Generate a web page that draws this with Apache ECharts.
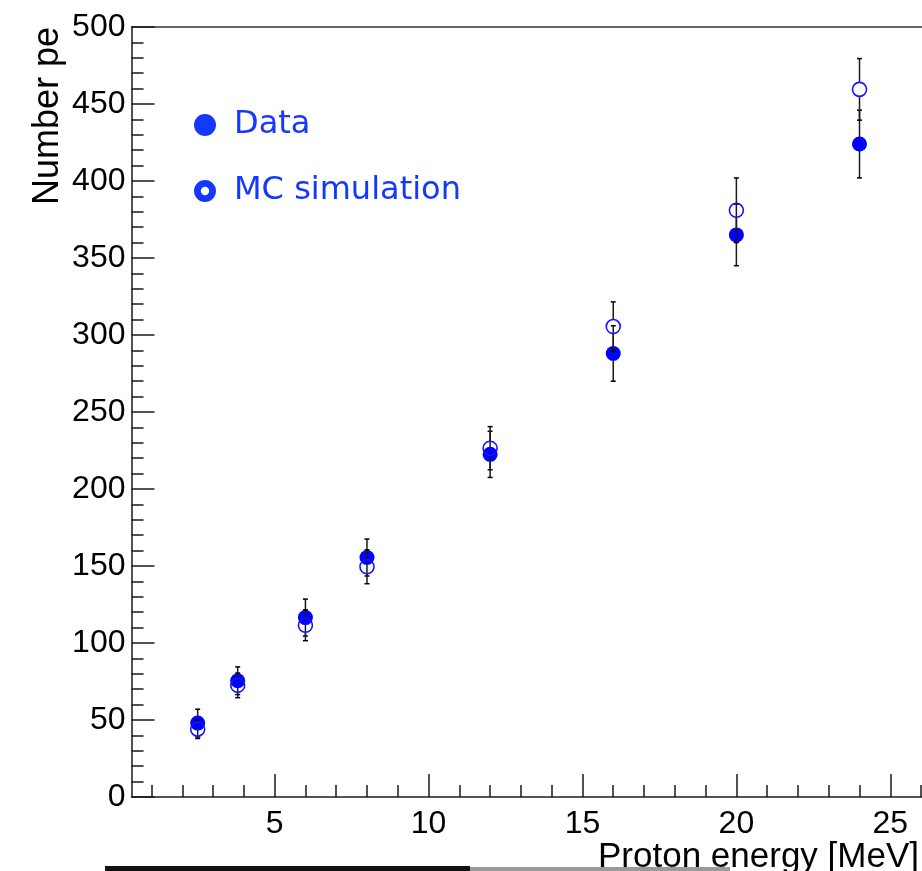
<!DOCTYPE html>
<html>
<head>
<meta charset="utf-8">
<title>Number of photoelectrons vs proton energy</title>
<script src="https://cdn.jsdelivr.net/npm/echarts@6/dist/echarts.min.js"></script>
<style>
  html, body { margin: 0; padding: 0; background: #fff; }
  #chart { width: 922px; height: 871px; }
</style>
</head>
<body>
<div id="chart"></div>
<script>
// Beam energies [MeV]
const energies = [2.5, 3.8, 6, 8, 12, 16, 20, 24];
// Measured number of photoelectrons and its uncertainty
const dataPe = [48, 75.5, 116.5, 155.5, 222.5, 288, 365, 424];
const dataErr = [9, 9, 12, 12, 15, 18, 20, 22];
// Simulated number of photoelectrons and its uncertainty
const mcPe = [44, 72.5, 111.5, 149.5, 226.5, 305.5, 381, 459.5];
const mcErr = [6, 8, 10, 11, 14, 16, 21, 20];
// Axis ticks
const xMajorTicks = [5, 10, 15, 20, 25];
const xMinorTicks = [1, 2, 3, 4, 6, 7, 8, 9, 11, 12, 13, 14, 16, 17, 18, 19, 21, 22, 23, 24, 26];

const BLUE = '#0000ff';
const LEGEND_BLUE = '#1538ff';
const AXIS = '#1a1a1a';
const FONT = '"Liberation Sans", Arial, Helvetica, sans-serif';

const chart = echarts.init(document.getElementById('chart'), null, { renderer: 'canvas' });

// Vertical error bar with a gap around the marker, caps at both ends
function errorBars(gapPx) {
  return function (params, api) {
    const x = api.value(0), y = api.value(1), e = api.value(2);
    const c = api.coord([x, y]);
    const hi = api.coord([x, y + e]);
    const lo = api.coord([x, y - e]);
    const cap = 2.5;
    const style = { stroke: AXIS, lineWidth: 1.5 };
    const kids = [];
    if (hi[1] < c[1] - gapPx) {
      kids.push({ type: 'line', shape: { x1: c[0], y1: hi[1], x2: c[0], y2: c[1] - gapPx }, style });
    }
    if (lo[1] > c[1] + gapPx) {
      kids.push({ type: 'line', shape: { x1: c[0], y1: c[1] + gapPx, x2: c[0], y2: lo[1] }, style });
    }
    kids.push({ type: 'line', shape: { x1: c[0] - cap, y1: hi[1], x2: c[0] + cap, y2: hi[1] }, style: { stroke: '#000', lineWidth: 1.5 } });
    kids.push({ type: 'line', shape: { x1: c[0] - cap, y1: lo[1], x2: c[0] + cap, y2: lo[1] }, style: { stroke: '#000', lineWidth: 1.5 } });
    return { type: 'group', children: kids };
  };
}

const dataRows = energies.map((x, i) => [x, dataPe[i], dataErr[i]]);
const mcRows = energies.map((x, i) => [x, mcPe[i], mcErr[i]]);

// Ring icon for the hollow-marker legend entry
const ringIcon = 'path://M0,-10.5A10.5,10.5 0 1,1 0,10.5A10.5,10.5 0 1,1 0,-10.5Z' +
                 'M0,-4A4,4 0 1,0 0,4A4,4 0 1,0 0,-4Z';

// The frame runs off the right edge of the canvas
const X_MIN = 0.35, X_MAX = 26.03;

const option = {
  backgroundColor: '#fff',
  animation: false,
  grid: { left: 131.5, top: 27, right: 0, height: 770, show: false },
  legend: {
    orient: 'vertical',
    left: 189, top: 99,
    itemWidth: 22, itemHeight: 22,
    itemGap: 24,
    selectedMode: false,
    textStyle: {
      fontFamily: '"DejaVu Sans", sans-serif',
      fontSize: 32,
      color: LEGEND_BLUE,
      lineHeight: 42,
      padding: [0, 0, 0, 13]
    },
    data: [
      { name: 'Data', icon: 'circle', itemStyle: { color: LEGEND_BLUE, borderWidth: 0 } },
      { name: 'MC simulation', icon: ringIcon, itemStyle: { color: LEGEND_BLUE, borderWidth: 0 } }
    ]
  },
  xAxis: [
    {
      // bottom frame line
      type: 'value', min: X_MIN, max: X_MAX, position: 'bottom',
      axisLine: { show: true, lineStyle: { color: AXIS, width: 1.5 } },
      axisTick: { show: false }, axisLabel: { show: false }, splitLine: { show: false }
    },
    {
      // major ticks and labels
      type: 'value', min: X_MIN, max: X_MAX, position: 'bottom',
      axisLine: { show: false },
      axisTick: { show: true, inside: true, length: 23, customValues: xMajorTicks, lineStyle: { color: AXIS, width: 1.5 } },
      axisLabel: { show: true, customValues: xMajorTicks, margin: 11, fontSize: 32, fontFamily: FONT, color: '#000' },
      splitLine: { show: false }
    },
    {
      // minor ticks
      type: 'value', min: X_MIN, max: X_MAX, position: 'bottom',
      axisLine: { show: false },
      axisTick: { show: true, inside: true, length: 12, customValues: xMinorTicks, lineStyle: { color: AXIS, width: 1.5 } },
      axisLabel: { show: false },
      splitLine: { show: false }
    },
    {
      // top frame line
      type: 'value', min: X_MIN, max: X_MAX, position: 'top',
      axisLine: { show: true, lineStyle: { color: '#333', width: 1.5 } },
      axisTick: { show: false }, axisLabel: { show: false }, splitLine: { show: false }
    }
  ],
  yAxis: {
    type: 'value', min: 0, max: 500, interval: 50,
    axisLine: { show: true, lineStyle: { color: AXIS, width: 1.5 } },
    axisTick: { show: true, inside: true, length: 23, lineStyle: { color: AXIS, width: 1.5 } },
    minorTick: { show: true, splitNumber: 5, length: 12, lineStyle: { color: AXIS, width: 1.5 } },
    axisLabel: { margin: 6, fontSize: 32, fontFamily: FONT, color: '#000' },
    splitLine: { show: false }
  },
  graphic: [
    {
      type: 'text', rotation: Math.PI / 2, x: 30, y: 27,
      style: { text: 'Number pe', font: '36px ' + FONT, fill: '#000', textAlign: 'right', textVerticalAlign: 'top' }
    },
    {
      type: 'text', x: 598, y: 840,
      style: { text: 'Proton energy [MeV]', font: '35px ' + FONT, fill: '#000', textAlign: 'left', textVerticalAlign: 'top' }
    },
    {
      type: 'rect', shape: { x: 105, y: 866, width: 365, height: 5 },
      style: { fill: '#111' }
    },
    {
      type: 'rect', shape: { x: 470, y: 867, width: 260, height: 4 },
      style: { fill: '#9a9a9a' }
    }
  ],
  series: [
    {
      name: 'Data errors', type: 'custom', xAxisIndex: 0, data: dataRows,
      encode: { x: 0, y: 1 }, renderItem: errorBars(7), z: 2, clip: false
    },
    {
      name: 'Data', type: 'scatter', xAxisIndex: 0, data: dataRows.map(r => [r[0], r[1]]),
      symbol: 'circle', symbolSize: 15, itemStyle: { color: BLUE, opacity: 1 }, z: 3
    },
    {
      name: 'MC errors', type: 'custom', xAxisIndex: 0, data: mcRows,
      encode: { x: 0, y: 1 }, renderItem: errorBars(7), z: 4, clip: false
    },
    {
      name: 'MC simulation', type: 'scatter', xAxisIndex: 0, data: mcRows.map(r => [r[0], r[1]]),
      symbol: 'circle', symbolSize: 14,
      itemStyle: { color: 'transparent', borderColor: '#1414ff', borderWidth: 1.6, opacity: 1 }, z: 5
    }
  ]
};

chart.setOption(option);
</script>
</body>
</html>
